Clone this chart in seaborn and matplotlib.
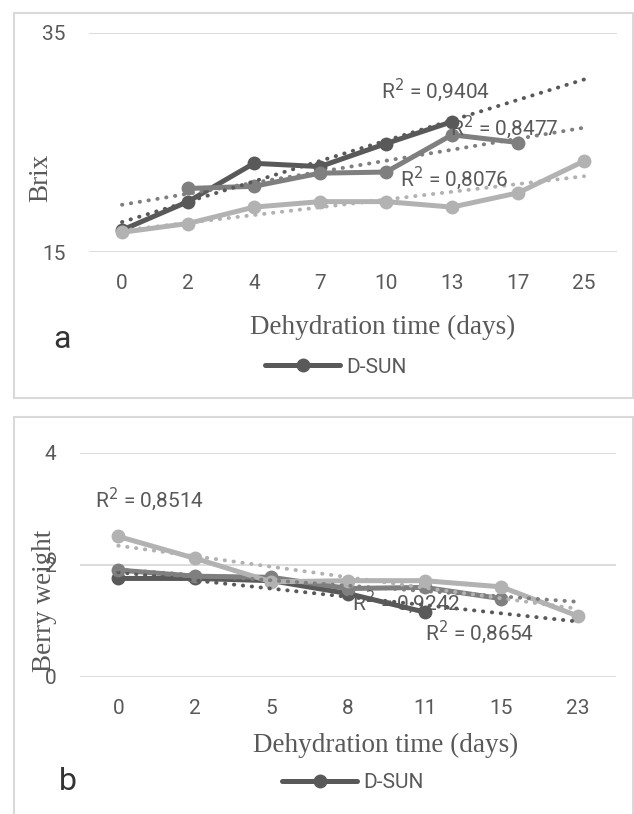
"""
Brix and berry weight during dehydration - two stacked line charts with
linear trendlines (Excel style, grey scale).
"""

import numpy as np
import pandas as pd
import matplotlib
matplotlib.use("Agg")
import matplotlib.pyplot as plt
from matplotlib.patches import Rectangle
from matplotlib.lines import Line2D
import seaborn as sns

# ─── Data ─────────────────────────────────────────────────────────────────────
brix_days = ["0", "2", "4", "7", "10", "13", "17", "25"]
brix_dark = [17.0, 19.6, 23.1, 22.8, 24.9, 26.9, np.nan, np.nan]     # D-SUN
brix_mid = [np.nan, 20.8, 21.0, 22.2, 22.3, 25.7, 25.0, np.nan]
brix_light = [16.8, 17.6, 19.1, 19.6, 19.6, 19.1, 20.4, 23.3]
brix_r2 = ["0,9404", "0,8477", "0,8076"]

weight_days = ["0", "2", "5", "8", "11", "15", "23"]
weight_dark = [1.76, 1.76, 1.72, 1.49, 1.16, np.nan, np.nan]        # D-SUN
weight_mid = [1.91, 1.80, 1.78, 1.58, 1.60, 1.40, np.nan]
weight_light = [2.51, 2.12, 1.70, 1.72, 1.72, 1.61, 1.09]
weight_r2 = ["0,9242", "0,8514", "0,8654"]

# ─── Style ────────────────────────────────────────────────────────────────────
sns.set_style("white")
plt.rcParams["font.family"] = ["Roboto", "DejaVu Sans"]

DARK, MID, LIGHT = "#595959", "#7f7f7f", "#b2b2b2"
TXT = "#595959"
SERIF = "Liberation Serif"
FS = 15          # tick / annotation text
FS_TITLE = 19.5  # serif axis titles


def draw_panel(ax, days, series, ymin, ymax, yticks):
    idx = np.arange(len(days))
    rows = []
    for name, vals in series:
        for i, v in zip(idx, vals):
            rows.append({"idx": i, "value": v, "series": name})
    df = pd.DataFrame(rows).dropna()

    palette = {"dark": DARK, "mid": MID, "light": LIGHT}
    for z, (name, _) in enumerate(series):
        sub = df[df["series"] == name]
        sns.lineplot(data=sub, x="idx", y="value", ax=ax, color=palette[name],
                     lw=3.6, marker="o", markersize=10, markeredgewidth=0,
                     zorder=2 + z * 0.1, legend=False)

    # linear trendlines over the category index, drawn across all categories
    for name, _ in series:
        sub = df[df["series"] == name]
        k, b = np.polyfit(sub["idx"], sub["value"], 1)
        ax.plot(idx, k * idx + b, ls=(0, (0.1, 2.2)), lw=2.8,
                dash_capstyle="round", color=palette[name], zorder=3)

    ax.set_xlim(-0.5, len(days) - 0.5)
    ax.set_ylim(ymin, ymax)
    ax.set_xticks(idx)
    ax.set_xticklabels(days)
    ax.set_yticks(yticks)
    ax.tick_params(axis="both", length=0, labelsize=FS, labelcolor=TXT)
    ax.tick_params(axis="x", pad=16)
    ax.tick_params(axis="y", pad=17)
    ax.grid(axis="y", color="#d9d9d9", lw=1.3)
    ax.set_axisbelow(True)
    for s in ax.spines.values():
        s.set_visible(False)
    ax.set_xlabel("Dehydration time (days)", family=SERIF, fontsize=FS_TITLE,
                  color=TXT)


fig = plt.figure(figsize=(6.34, 8.14), dpi=100)

# panel frames
fig.add_artist(Rectangle((14 / 634, 1 - 398 / 814), 619 / 634, 385 / 814,
                         transform=fig.transFigure, fill=False,
                         ec="#d9d9d9", lw=1.5))
fig.add_artist(Rectangle((14 / 634, -0.01), 619 / 634, 1 - 417 / 814 + 0.01,
                         transform=fig.transFigure, fill=False,
                         ec="#d9d9d9", lw=1.5))

# ── Panel a: Brix ────────────────────────────────────────────────────────────
ax1 = fig.add_axes([89 / 634, 1 - 252 / 814, 528 / 634, 219 / 814])
draw_panel(ax1, brix_days,
           [("dark", brix_dark), ("mid", brix_mid), ("light", brix_light)],
           15, 35, [15, 35])
ax1.set_ylabel("Brix", family=SERIF, fontsize=FS_TITLE, color=TXT)
ax1.yaxis.set_label_coords(-0.068, 0.34)
ax1.xaxis.set_label_coords((383 - 89) / 528, -(315 - 252) / 219)
for (x, y), r in zip([(3.92, 29.8), (4.97, 26.4), (4.21, 21.7)], brix_r2):
    ax1.text(x, y, f"R$^2$ = {r}", fontsize=FS, color=TXT, va="center",
             zorder=4)

# ── Panel b: Berry weight ────────────────────────────────────────────────────
ax2 = fig.add_axes([80 / 634, 1 - 677 / 814, 536 / 634, 224 / 814])
draw_panel(ax2, weight_days,
           [("dark", weight_dark), ("mid", weight_mid), ("light", weight_light)],
           0, 4, [0, 2, 4])
ax2.set_ylabel("Berry weight", family=SERIF, fontsize=FS_TITLE, color=TXT)
ax2.yaxis.set_label_coords(-0.043, 0.34)
ax2.xaxis.set_label_coords((386 - 80) / 536, -(733 - 677) / 224)
for (x, y), r in zip([(3.05, 1.34), (-0.31, 3.17), (4.0, 0.80)], weight_r2):
    ax2.text(x, y, f"R$^2$ = {r}", fontsize=FS, color=TXT, va="center",
             zorder=4)

# ── legends (only the D-SUN series is listed) ────────────────────────────────
handle = Line2D([], [], color=DARK, lw=3.6, marker="o", markersize=10,
                markeredgewidth=0)
for xpos, ypos in ((0.53, 1 - 367 / 814), (0.557, 1 - 783 / 814)):
    fig.legend([handle], ["D-SUN"], loc="center",
               bbox_to_anchor=(xpos, ypos),
               frameon=False, fontsize=FS, handlelength=3.6,
               handletextpad=0.3, labelcolor=TXT)

fig.text(62 / 634, 1 - 340 / 814, "a", fontsize=23, color="#333333",
         ha="center", va="center")
fig.text(68 / 634, 1 - 782 / 814, "b", fontsize=23, color="#333333",
         ha="center", va="center")

fig.savefig("out.png", dpi=100)
